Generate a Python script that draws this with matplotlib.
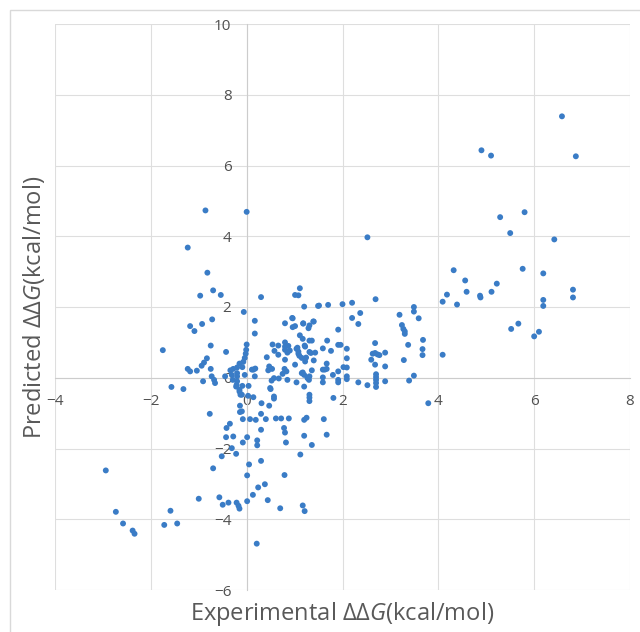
import numpy as np
import matplotlib
matplotlib.use('Agg')
import matplotlib.pyplot as plt
from matplotlib.patches import Rectangle

plt.rcParams['font.family'] = ['Open Sans', 'DejaVu Sans']
plt.rcParams['mathtext.fontset'] = 'custom'
plt.rcParams['mathtext.rm'] = 'Open Sans'
plt.rcParams['mathtext.it'] = 'Open Sans:italic'

# upper-left / around the origin
exp_a = [-0.86, 0.00, -1.23, -0.82, -0.97, -0.70, -0.54, 0.30, -0.06, 0.95, 1.01, 1.08, 1.11, 1.20, 1.49,
         -1.18, -1.09, -0.93, -0.72, 0.17, 0.17, 0.80, 0.96, 1.01,
         -1.75, -0.75, -0.43, 0.00, -0.01, -0.02, -0.04, -0.07, -0.15, -0.20, -0.09,
         -0.83, -0.89, -0.94, -1.23, -1.18, -1.04, -0.75, -0.28, -0.34, 0.11, 0.18,
         0.42, 0.54, 0.66, 0.58, 0.66, 0.47, 0.53, 0.45,
         0.80, 0.80, 0.87, 0.80, 0.85, 0.90, 0.80, 1.04, 1.08, 1.01, 0.79, 0.83, 0.75, 0.67, 0.85, 0.57, 1.04, 0.49, 0.57,
         -1.57, -1.32, -0.91, -0.73, -0.68, -0.66, -0.45, -0.31, -0.29, -0.20, -0.22, -0.15, -0.09, 0.04, -0.20, -0.04,
         -0.10, -0.20, 0.14, 0.17, 0.52,
         1.15, 1.22, 1.22, 1.15, 1.31, 0.96, 1.18, 1.29, 1.39]
pred_a = [4.73, 4.69, 3.68, 2.97, 2.32, 2.47, 2.34, 2.28, 1.86, 1.69, 2.34, 2.33, 2.53, 2.01, 2.03,
          1.46, 1.32, 1.52, 1.65, 1.61, 1.25, 1.54, 1.68, 1.46,
          0.78, 0.91, 0.73, 0.94, 0.79, 0.68, 0.56, 0.45, 0.40, 0.29, 0.30,
          0.55, 0.43, 0.34, 0.25, 0.18, 0.20, 0.25, 0.25, 0.21, 0.23, 0.26,
          0.58, 0.94, 0.91, 0.76, 0.65, 0.32, 0.25, 0.21,
          1.00, 0.88, 0.90, 0.79, 0.71, 0.77, 0.51, 0.82, 0.68, 0.37, 0.25, 0.18, 0.11, -0.02, -0.06, -0.01, -0.13, -0.29, -0.53,
          -0.26, -0.32, -0.10, 0.04, -0.06, -0.15, 0.04, 0.08, -0.06, -0.10, -0.25, -0.34, -0.23, -0.23, 0.04, 0.08,
          -0.48, 0.13, 0.23, 0.04, -0.08,
          0.56, 0.46, 0.88, 0.13, 0.04, 1.43, 1.53, 1.40, 1.59]

# lower region
exp_b = [-0.77, -0.42, -0.35, -0.43, -0.28, 0.01, -0.08, -0.31, -0.52, -0.22, 0.22, 0.22, 0.05, 0.30, -0.70,
         0.01, 0.79, 0.24, 0.38, 0.13, 0.01, 0.44, 0.70, 1.17, 1.21, -1.00, -0.57, -0.50, -0.38, -0.21, -0.17, -0.15,
         -2.94, -2.73, -2.58, -2.38, -2.34, -1.72, -1.59, -1.45, 0.21,
         -0.21, -0.15, -0.13, 0.03, 0.14, -0.14, -0.10, -0.14, -0.08, 0.07, 0.19, 0.30, 0.31, 0.30, 0.47, 0.57,
         0.40, 0.50, 0.61, 0.72, 0.88, 0.78, 0.80, 0.82, 1.20, 1.12, 1.36, 1.31, 1.31, 1.20, 1.25, 1.61, 1.67,
         1.81, 3.79]
pred_b = [-1.02, -1.42, -1.30, -1.68, -1.66, -1.68, -1.83, -1.99, -2.22, -2.15, -1.77, -1.91, -2.45, -2.35, -2.56,
          -2.76, -2.75, -3.10, -3.01, -3.31, -3.49, -3.46, -3.69, -3.61, -3.77, -3.42, -3.38, -3.59, -3.53, -3.53, -3.62, -3.70,
          -2.62, -3.79, -4.12, -4.32, -4.41, -4.16, -3.76, -4.12, -4.69,
          -0.20, -0.39, -0.48, -0.51, -0.55, -0.79, -0.95, -0.97, -1.17, -1.17, -1.19, -1.47, -0.72, -1.02, -0.79, -0.59,
          -1.17, -0.32, -1.15, -1.15, -1.15, -1.42, -1.55, -1.83, -1.64, -2.17, -1.90, -0.56, -0.66, -1.19, -1.13, -1.17, -1.61,
          -0.57, -0.72]

# middle-right
exp_c = [1.51, 1.70, 2.00, 2.20, 2.69, 2.37, 2.20, 2.33, 3.19, 3.49, 3.49, 3.59, 3.24, 3.27, 3.30, 3.30, 3.68,
         3.37, 3.67, 3.67, 3.28, 3.49, 3.39,
         1.18, 1.31, 1.40, 1.91, 1.11, 1.17, 1.31, 1.36, 1.21, 1.06, 1.68, 1.59, 1.76, 1.91, 1.96, 2.09, 2.09,
         2.09, 2.02, 2.09, 2.09, 1.91, 1.91, 1.91, 1.08, 1.10, 1.31, 1.34, 1.43, 1.40, 1.24, 1.67, 1.59, 1.63,
         1.67, 1.80, 1.59, 1.59, 1.36, 1.17, 1.20, 1.27, 1.30, 1.20, 1.31, 2.33, 2.52, 2.68, 2.68, 2.73, 2.63,
         2.77, 2.60, 2.89, 2.89, 2.68, 2.70, 2.70, 2.70, 2.70, 2.70, 2.89, 4.09]
pred_c = [2.04, 2.06, 2.08, 2.12, 2.22, 1.83, 1.69, 1.52, 1.78, 2.00, 1.87, 1.68, 1.49, 1.38, 1.31, 1.24, 1.07,
          0.93, 0.81, 0.64, 0.50, 0.06, -0.08,
          1.54, 1.48, 1.59, 1.36, 1.20, 1.10, 1.05, 1.05, 0.91, 0.85, 1.05, 0.83, 0.76, 0.93, 0.93, 0.82, 0.55,
          0.29, 0.30, 0.04, -0.04, 0.18, -0.06, -0.13, 0.74, 0.62, 0.73, 0.70, 0.71, 0.49, 0.57, 0.40, 0.23, 0.23,
          0.25, 0.08, 0.01, -0.13, 0.21, 0.15, 0.08, -0.01, -0.06, -0.25, -0.48, -0.13, -0.21, 0.98, 0.70, 0.66, 0.68,
          0.64, 0.51, 0.71, 0.32, 0.37, 0.10, 0.02, -0.06, -0.15, -0.26, -0.10, 0.65]

# upper-right
exp_d = [6.58, 6.87, 4.90, 5.10, 2.52, 5.29, 5.80, 5.50, 6.42, 4.32, 5.76, 6.19, 4.56, 4.18, 4.59, 4.87, 4.88,
         5.11, 5.22, 4.09, 4.39, 6.19, 6.19, 6.81, 6.81, 5.52, 5.67, 6.00, 6.10]
pred_d = [7.39, 6.26, 6.43, 6.28, 3.97, 4.54, 4.68, 4.09, 3.91, 3.04, 3.08, 2.95, 2.75, 2.35, 2.43, 2.32, 2.27,
          2.43, 2.66, 2.15, 2.07, 2.20, 2.03, 2.49, 2.27, 1.38, 1.53, 1.17, 1.30]

exp_ddg = np.concatenate([exp_a, exp_b, exp_c, exp_d])
pred_ddg = np.concatenate([pred_a, pred_b, pred_c, pred_d])

x_ticks = [-4, -2, 0, 2, 4, 6, 8]
y_ticks = [-6, -4, -2, 0, 2, 4, 6, 8, 10]

fig = plt.figure(figsize=(6.4, 6.32), dpi=100)
ax = fig.add_axes([55 / 640, 1 - 590 / 632, 575 / 640, 566 / 632])

ax.scatter(exp_ddg, pred_ddg, s=18, color='#3a7cc6', edgecolors='none', zorder=3)

ax.set_xlim(-4, 8)
ax.set_ylim(-6, 10)
ax.set_xticks(x_ticks)
ax.set_yticks(y_ticks)
ax.grid(True, color='#dedede', linewidth=0.8)
ax.set_axisbelow(True)

# axes cross at zero like the Excel original
ax.spines['left'].set_position('zero')
ax.spines['bottom'].set_position('zero')
ax.spines['left'].set_color('#cccccc')
ax.spines['bottom'].set_color('#cccccc')
ax.spines['right'].set_visible(False)
ax.spines['top'].set_visible(False)
ax.tick_params(axis='x', length=0, pad=12, labelsize=11, labelcolor='#505050')
ax.tick_params(axis='y', length=0, pad=11, labelsize=11, labelcolor='#505050')

ax.set_xlabel('Experimental $\\Delta\\Delta G$(kcal/mol)', fontsize=17, color='#595959')
ax.set_ylabel('Predicted $\\Delta\\Delta G$(kcal/mol)', fontsize=17, color='#595959')
ax.xaxis.set_label_coords(0.5, -0.018)
ax.yaxis.set_label_coords(-0.014, 0.5)

# light outer frame of the chart area
fig.patches.append(Rectangle((10 / 640, -0.05), 1.0, 1 - 10 / 632 + 0.05, transform=fig.transFigure,
                             fill=False, edgecolor='#d9d9d9', linewidth=1))

fig.savefig('out.png', dpi=100)
